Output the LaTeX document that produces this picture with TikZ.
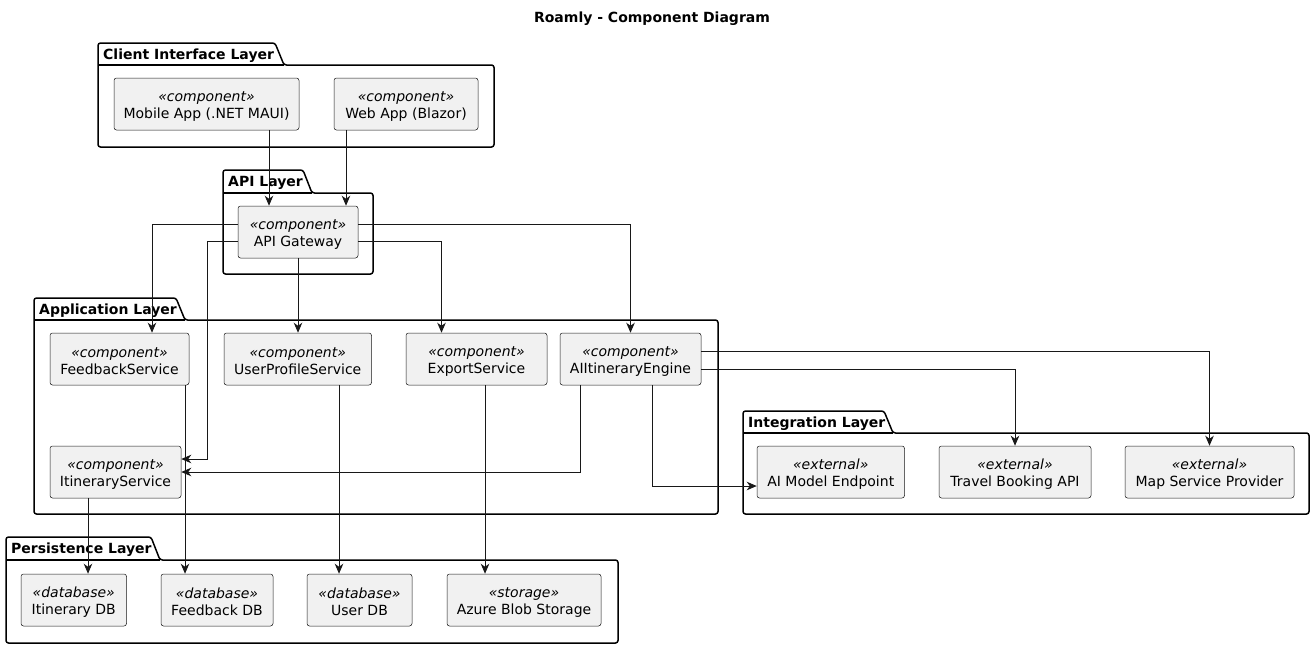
\documentclass[tikz,border=0pt]{standalone}
\usepackage{fontspec}
\setmainfont{DejaVu Sans}
\usetikzlibrary{arrows.meta,calc}
\definecolor{boxfill}{HTML}{F1F1F1}
\definecolor{edgecol}{HTML}{181818}
\newcommand\pkgbox[8]{%
  \draw[pkg] (#2,#4) -- (#2,#3) -- (#7,#3) -- (#7+9,#4) -- (#5,#4) -- (#5,#6) -- (#2,#6) -- cycle;
  \draw[pkg] (#2,#4) -- (#7+9,#4);
  \node[pkglabel,anchor=west] (#1) at (#2+5,{(#3+#4)/2+1.5}) {#8};}
\newcommand\compnode[6]{%
  \node[comp, minimum width=#4pt, minimum height=52pt] (#1) at (#2,#3) {\rule{0pt}{15pt}\textit{«#5»}\\#6};}
\begin{document}
\begin{tikzpicture}[x=1pt,y=-1pt,
 comp/.style={draw=edgecol, line width=0.5pt, fill=boxfill, rounded corners=2.5pt, inner sep=0pt, align=center, font=\fontsize{14}{17}\selectfont},
 pkg/.style={draw=black, line width=1.5pt, rounded corners=2.5pt},
 pkglabel/.style={font=\bfseries\fontsize{14}{17}\selectfont, inner sep=0pt},
 arr/.style={draw=edgecol, line width=1pt, -{Stealth[length=10pt,width=8.5pt,inset=3pt]}},
]
\fill[white] (0,0) rectangle (1316,648);
\useasboundingbox (0,0) rectangle (1316,648);

\node[font=\bfseries\fontsize{14}{17}\selectfont] (title) at (652,19) {Roamly - Component Diagram};

% packages
\pkgbox{pclient}{98}{43}{65}{494}{147}{275}{Client Interface Layer}
\pkgbox{papi}{223}{170}{193}{373}{274}{303}{API Layer}
\pkgbox{papp}{34}{298}{320}{718}{514}{176}{Application Layer}
\pkgbox{pint}{743}{411}{433}{1309}{514}{884}{Integration Layer}
\pkgbox{ppers}{6}{537}{560}{618}{643}{151}{Persistence Layer}

% components
\compnode{mobile}{206.5}{104}{185}{component}{Mobile App (.NET MAUI)}
\compnode{web}{406}{104}{144}{component}{Web App (Blazor)}
\compnode{gw}{298}{232}{120}{component}{API Gateway}
\compnode{fb}{119.5}{359}{139}{component}{FeedbackService}
\compnode{ups}{297.75}{359}{147.5}{component}{UserProfileService}
\compnode{exp}{476.5}{359}{141}{component}{ExportService}
\compnode{ai}{630.5}{359}{141}{component}{AIItineraryEngine}
\compnode{its}{115.5}{472}{131}{component}{ItineraryService}
\compnode{ame}{830.75}{472}{147.5}{external}{AI Model Endpoint}
\compnode{tba}{1015}{472}{152}{external}{Travel Booking API}
\compnode{msp}{1209.5}{472}{169}{external}{Map Service Provider}
\compnode{idb}{73.75}{600}{105.5}{database}{Itinerary DB}
\compnode{fdb}{217}{600}{112}{database}{Feedback DB}
\compnode{udb}{359.5}{600}{105}{database}{User DB}
\compnode{blob}{524}{600}{154}{storage}{Azure Blob Storage}

% connectors
\coordinate (s1) at ([xshift=62.5pt]mobile.south);
\draw[arr] (s1) -- (s1 |- gw.north);
\coordinate (s2) at ([xshift=-60pt]web.south);
\draw[arr] (s2) -- (s2 |- gw.north);
\draw[arr] ([yshift=8pt]gw.west) -| ([xshift=32.5pt]fb.north);
\coordinate (c4) at ([xshift=26pt,yshift=13pt]its.east);
\draw[arr] ([yshift=-9pt]gw.west) -| (c4) -- (c4 -| its.east);
\draw[arr] (gw.south) -- (gw.south |- ups.north);
\draw[arr] ([yshift=-9pt]gw.east) -| ([xshift=-35pt]exp.north);
\draw[arr] ([yshift=8pt]gw.east) -| (ai.north);
\draw[arr] ([xshift=-50.5pt]ai.south) |- (its.east);
\draw[arr] ([xshift=21.5pt]ai.south) |- ([yshift=-14pt]ame.west);
\draw[arr] ([yshift=8pt]ai.east) -| (msp.north);
\draw[arr] ([yshift=-10pt]ai.east) -| (tba.north);
\coordinate (s12) at ([xshift=-27.5pt]its.south);
\draw[arr] (s12) -- (s12 |- idb.north);
\coordinate (s13) at ([xshift=65.5pt]fb.south);
\draw[arr] (s13) -- (s13 |- fdb.north);
\coordinate (s14) at ([xshift=41.25pt]ups.south);
\draw[arr] (s14) -- (s14 |- udb.north);
\coordinate (s15) at ([xshift=8.5pt]exp.south);
\draw[arr] (s15) -- (s15 |- blob.north);
\end{tikzpicture}
\end{document}
